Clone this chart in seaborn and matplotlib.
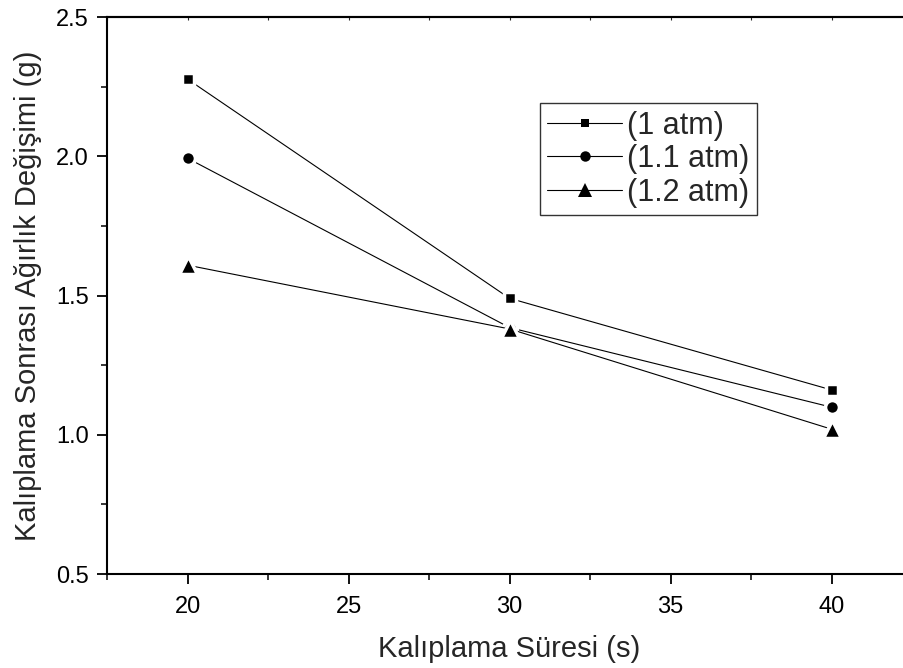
import matplotlib
matplotlib.use("Agg")
import matplotlib.pyplot as plt
import seaborn as sns
import pandas as pd
from matplotlib.ticker import MultipleLocator

sure = [20, 30, 40]
agirlik_1atm = [2.277, 1.490, 1.161]
agirlik_11atm = [1.993, 1.385, 1.099]
agirlik_12atm = [1.609, 1.380, 1.020]
etiketler = ["(1 atm)", "(1.1 atm)", "(1.2 atm)"]

sns.set_theme(style="ticks")
plt.rcParams['font.family'] = ['Liberation Sans', 'DejaVu Sans']

fig = plt.figure(figsize=(9.04, 6.68), dpi=100)
ax = fig.add_axes([0.1184, 0.1407, 0.8905, 0.8338])

halo = 2.5  # white edge so lines stop short of the markers (Origin look)
seriler = [
    (agirlik_1atm, "s", 6),
    (agirlik_11atm, "o", 7.5),
    (agirlik_12atm, "^", 10),
]
for (vals, mk, ms), lab in zip(seriler, etiketler):
    df = pd.DataFrame({"x": sure, "y": vals})
    sns.lineplot(data=df, x="x", y="y", ax=ax, color="black", lw=0.8,
                 marker=mk, markersize=ms + halo, markeredgecolor="white",
                 markeredgewidth=halo, markerfacecolor="black", label=lab)

ax.set_xlim(17.5, 42.5)
ax.set_ylim(0.5, 2.5)
ax.xaxis.set_major_locator(MultipleLocator(5))
ax.xaxis.set_minor_locator(MultipleLocator(2.5))
ax.yaxis.set_major_locator(MultipleLocator(0.5))
ax.yaxis.set_minor_locator(MultipleLocator(0.25))

for side in ["left", "bottom", "top"]:
    ax.spines[side].set_linewidth(1.5)
    ax.spines[side].set_color("black")
ax.spines["right"].set_visible(False)

ax.tick_params(axis="both", which="major", direction="out", length=7, width=1.3,
               labelsize=17, colors="black")
ax.tick_params(axis="both", which="minor", direction="out", length=4.5, width=1.3)
ax.tick_params(axis="x", which="major", pad=9)
ax.tick_params(axis="y", which="major", pad=6)

# small inward ticks on the top spine
top = ax.secondary_xaxis("top")
top.xaxis.set_major_locator(MultipleLocator(5))
top.xaxis.set_minor_locator(MultipleLocator(2.5))
top.tick_params(which="both", direction="in", length=2.5, width=0.8, labeltop=False)
top.spines["top"].set_linewidth(1.5)

ax.set_xlabel("Kalıplama Süresi (s)", fontsize=21, labelpad=12)
ax.set_ylabel("Kalıplama Sonrası Ağırlık Değişimi (g)", fontsize=21, labelpad=10)

leg = ax.legend(loc="upper left", bbox_to_anchor=(0.597, 0.846), bbox_transform=fig.transFigure,
                fontsize=22, frameon=True, fancybox=False, edgecolor="black",
                handlelength=2.45, handletextpad=0.15, borderpad=0.25, labelspacing=0.12,
                numpoints=1, borderaxespad=0)
leg.get_frame().set_linewidth(1.0)
for h, (_, _, ms) in zip(leg.legend_handles, seriler):
    h.set_markeredgewidth(0)
    h.set_markersize(ms)

fig.savefig("out.png", dpi=100)
